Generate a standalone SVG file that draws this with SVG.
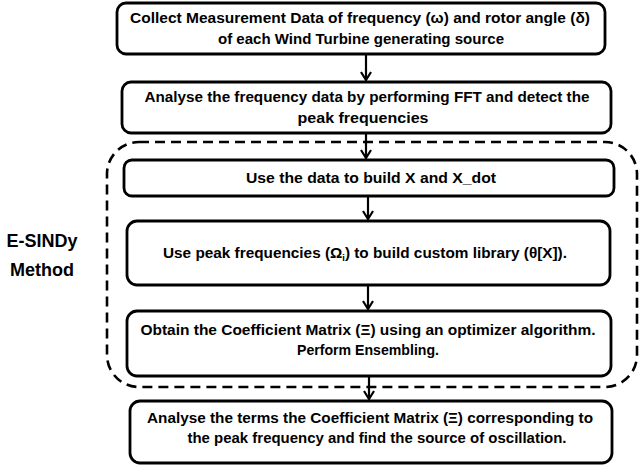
<svg xmlns="http://www.w3.org/2000/svg" width="639" height="470" viewBox="0 0 639 470">
<defs>
<style>
.box{fill:#fff;stroke:#000;stroke-width:2.8}
.t{font-family:"Liberation Sans",Arial,sans-serif;font-weight:bold;font-size:15px;fill:#000;text-anchor:middle}
.lbl{font-family:"Liberation Sans",Arial,sans-serif;font-weight:bold;font-size:18px;fill:#000;text-anchor:middle}
.ln{stroke:#000;stroke-width:2.2;fill:none}
.dash{fill:none;stroke:#000;stroke-width:2.6;stroke-dasharray:10 6}
</style>
<marker id="ah" viewBox="0 0 10 12" refX="9" refY="6" markerWidth="10" markerHeight="12" markerUnits="userSpaceOnUse" orient="auto">
<path d="M1,1 L9,6 L1,11" fill="none" stroke="#000" stroke-width="2.2"/>
</marker>
</defs>
<rect width="639" height="470" fill="#fff"/>
<g id="esindy-group">
<rect class="dash" x="107" y="142" width="530" height="245" rx="32"/>
<text class="lbl" x="42" y="247">E-SINDy</text>
<text class="lbl" x="42" y="276">Method</text>
</g>
<g id="connectors">
<line class="ln" x1="366" y1="54" x2="366" y2="80" marker-end="url(#ah)"/>
<line class="ln" x1="366" y1="133" x2="366" y2="158" marker-end="url(#ah)"/>
<line class="ln" x1="368" y1="196" x2="368" y2="219" marker-end="url(#ah)"/>
<line class="ln" x1="368" y1="285" x2="368" y2="309" marker-end="url(#ah)"/>
<line class="ln" x1="369" y1="376" x2="369" y2="399" marker-end="url(#ah)"/>
</g>
<g id="n1">
<rect class="box" x="117" y="3" width="488" height="51" rx="9"/>
<text class="t" x="360" y="23" textLength="460" lengthAdjust="spacingAndGlyphs">Collect Measurement Data of frequency (ω) and rotor angle (δ)</text>
<text class="t" x="361" y="44" textLength="286" lengthAdjust="spacingAndGlyphs">of each Wind Turbine generating source</text>
</g>
<g id="n2">
<rect class="box" x="122" y="82" width="489" height="51" rx="9"/>
<text class="t" x="367" y="102" textLength="445" lengthAdjust="spacingAndGlyphs">Analyse the frequency data by performing FFT and detect the</text>
<text class="t" x="363" y="123" textLength="131" lengthAdjust="spacingAndGlyphs">peak frequencies</text>
</g>
<g id="n3">
<rect class="box" x="124" y="160" width="490" height="36" rx="8"/>
<text class="t" x="371" y="183" textLength="250" lengthAdjust="spacingAndGlyphs">Use the data to build X and X_dot</text>
</g>
<g id="n4">
<rect class="box" x="127" y="221" width="483" height="64" rx="10"/>
<text class="t" x="365" y="258" textLength="404" lengthAdjust="spacingAndGlyphs">Use peak frequencies (Ω<tspan font-size="9" dy="3">i</tspan><tspan dy="-3">) to build custom library (θ[X]).</tspan></text>
</g>
<g id="n5">
<rect class="box" x="127" y="311" width="484" height="65" rx="10"/>
<text class="t" x="368" y="335" textLength="455" lengthAdjust="spacingAndGlyphs">Obtain the Coefficient Matrix (Ξ) using an optimizer algorithm.</text>
<text class="t" x="368" y="355" textLength="142" lengthAdjust="spacingAndGlyphs">Perform Ensembling.</text>
</g>
<g id="n6">
<rect class="box" x="130" y="401" width="482" height="62" rx="10"/>
<text class="t" x="370" y="423" textLength="446" lengthAdjust="spacingAndGlyphs">Analyse the terms the Coefficient Matrix (Ξ) corresponding to</text>
<text class="t" x="377" y="443" textLength="379" lengthAdjust="spacingAndGlyphs">the peak frequency and find the source of oscillation.</text>
</g>
</svg>
